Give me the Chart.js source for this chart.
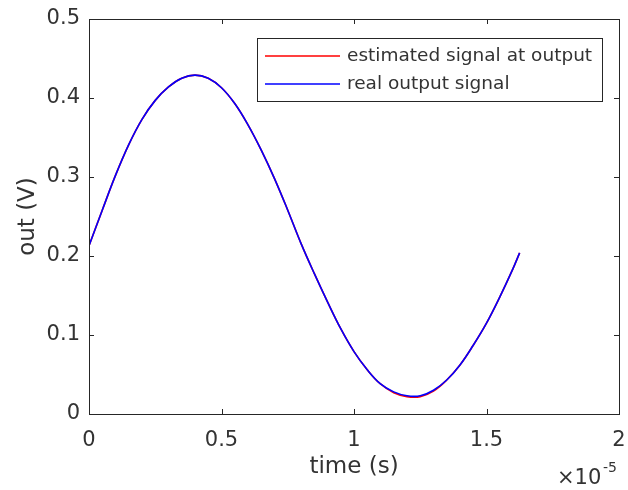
<!DOCTYPE html>
<html>
<head>
<meta charset="utf-8">
<script src="https://cdn.jsdelivr.net/npm/chart.js@4.4.1/dist/chart.umd.min.js"></script>
<style>
  html, body { margin: 0; padding: 0; background: #ffffff; }
  #wrap { width: 628px; height: 490px; }
</style>
</head>
<body>
<div id="wrap"><canvas id="c" width="628" height="490"></canvas></div>
<script>
// time in units of 1e-5 s (axis multiplier shown as ×10^-5)
const timeE5 = [0, 0.05, 0.10, 0.15, 0.20, 0.25, 0.30, 0.35, 0.40, 0.45, 0.50, 0.55, 0.60, 0.65, 0.70, 0.75, 0.80,
  0.85, 0.90, 0.95, 1.00, 1.05, 1.10, 1.15, 1.20, 1.25, 1.30, 1.35, 1.40, 1.45, 1.50, 1.55, 1.60, 1.625];
const realOutput = [0.213, 0.258, 0.302, 0.341, 0.373, 0.397, 0.414, 0.425, 0.429, 0.425, 0.413, 0.393, 0.366, 0.334,
  0.298, 0.258, 0.216, 0.178, 0.142, 0.108, 0.079, 0.056, 0.038, 0.028, 0.023, 0.023, 0.030, 0.043, 0.062, 0.087,
  0.115, 0.148, 0.184, 0.204];
const estimatedOutput = [0.213, 0.258, 0.302, 0.341, 0.373, 0.397, 0.414, 0.425, 0.429, 0.425, 0.413, 0.393, 0.366, 0.334,
  0.298, 0.258, 0.216, 0.178, 0.142, 0.108, 0.079, 0.056, 0.038, 0.027, 0.022, 0.022, 0.029, 0.043, 0.062, 0.087,
  0.115, 0.148, 0.184, 0.204];
const xTicks = [0, 0.5, 1, 1.5, 2];
const yTicks = [0, 0.1, 0.2, 0.3, 0.4, 0.5];
const xTickLabels = ['0', '0.5', '1', '1.5', '2'];
const yTickLabels = ['0', '0.1', '0.2', '0.3', '0.4', '0.5'];
const seriesNames = ['estimated signal at output', 'real output signal'];
const xTitle = 'time (s)';
const yTitle = 'out (V)';
const exponentBase = '×10';
const exponentPower = '-5';

const AX = '#262626';
const TXT = '#333333';
const FONT = "'DejaVu Sans', sans-serif";

const toPts = (ys) => ys.map((y, i) => ({ x: timeE5[i], y }));

const boxPlugin = {
  id: 'matlabBox',
  afterDatasetsDraw(chart) {
    const { ctx, chartArea: a, scales } = chart;
    ctx.save();
    ctx.strokeStyle = AX;
    ctx.lineWidth = 1;
    const tl = 5;
    ctx.beginPath();
    xTicks.forEach(v => {
      const px = Math.round(scales.x.getPixelForValue(v)) + 0.5;
      ctx.moveTo(px, a.bottom); ctx.lineTo(px, a.bottom - tl);
      ctx.moveTo(px, a.top); ctx.lineTo(px, a.top + tl);
    });
    yTicks.forEach(v => {
      const py = Math.round(scales.y.getPixelForValue(v)) + 0.5;
      ctx.moveTo(a.left, py); ctx.lineTo(a.left + tl, py);
      ctx.moveTo(a.right, py); ctx.lineTo(a.right - tl, py);
    });
    ctx.stroke();
    ctx.strokeRect(Math.round(a.left) + 0.5, Math.round(a.top) + 0.5,
      Math.round(a.right - a.left), Math.round(a.bottom - a.top));

    // legend box
    const lx = 257, ly = 38, lw = 345, lh = 63;
    ctx.fillStyle = '#ffffff';
    ctx.fillRect(lx, ly, lw, lh);
    ctx.strokeStyle = AX;
    ctx.strokeRect(lx + 0.5, ly + 0.5, lw, lh);
    const colors = ['#ff0000', '#0000ff'];
    const rows = [56, 84];
    ctx.font = "18.5px " + FONT;
    ctx.textBaseline = 'middle';
    ctx.textAlign = 'left';
    seriesNames.forEach((name, i) => {
      ctx.strokeStyle = colors[i];
      ctx.lineWidth = 1.5;
      ctx.beginPath();
      ctx.moveTo(265, rows[i]); ctx.lineTo(340, rows[i]);
      ctx.stroke();
      ctx.fillStyle = TXT;
      ctx.fillText(name, 347, rows[i]);
    });

    // exponent label
    ctx.fillStyle = TXT;
    ctx.font = "21px " + FONT;
    ctx.fillText(exponentBase, 557, 479);
    ctx.font = "14px " + FONT;
    ctx.fillText(exponentPower, 603, 468);
    ctx.restore();
  }
};

new Chart(document.getElementById('c'), {
  type: 'line',
  data: {
    datasets: [
      { label: seriesNames[1], data: toPts(realOutput), borderColor: '#0000ff', borderWidth: 1.6,
        pointRadius: 0, fill: false, tension: 0.4 },
      { label: seriesNames[0], data: toPts(estimatedOutput), borderColor: '#ff0000', borderWidth: 1.6,
        pointRadius: 0, fill: false, tension: 0.4 }
    ]
  },
  options: {
    responsive: false,
    animation: false,
    devicePixelRatio: 1,
    layout: { padding: { left: 0, right: 9, top: 19, bottom: 0 } },
    plugins: { legend: { display: false }, tooltip: { enabled: false } },
    scales: {
      x: {
        type: 'linear', min: 0, max: 2,
        afterBuildTicks: s => { s.ticks = xTicks.map(v => ({ value: v })); },
        afterFit: s => { s.height = 76; s.paddingLeft = 0; s.paddingRight = 0; },
        grid: { display: false, drawTicks: false },
        border: { display: false },
        ticks: { color: TXT, font: { family: FONT, size: 21 }, padding: 14, maxRotation: 0,
          callback: (v, i) => xTickLabels[i] },
        title: { display: true, text: xTitle, color: TXT, font: { family: FONT, size: 23 },
          padding: { top: 0, bottom: 9 } }
      },
      y: {
        type: 'linear', min: 0, max: 0.5,
        afterBuildTicks: s => { s.ticks = yTicks.map(v => ({ value: v })); },
        afterFit: s => { s.width = 89; s.paddingTop = 0; s.paddingBottom = 0; },
        grid: { display: false, drawTicks: false },
        border: { display: false },
        ticks: { color: TXT, font: { family: FONT, size: 21 }, padding: 9,
          callback: (v, i) => yTickLabels[i] },
        title: { display: true, text: yTitle, color: TXT, font: { family: FONT, size: 23 },
          padding: { top: 14, bottom: 0 } }
      }
    }
  },
  plugins: [boxPlugin]
});
</script>
</body>
</html>
